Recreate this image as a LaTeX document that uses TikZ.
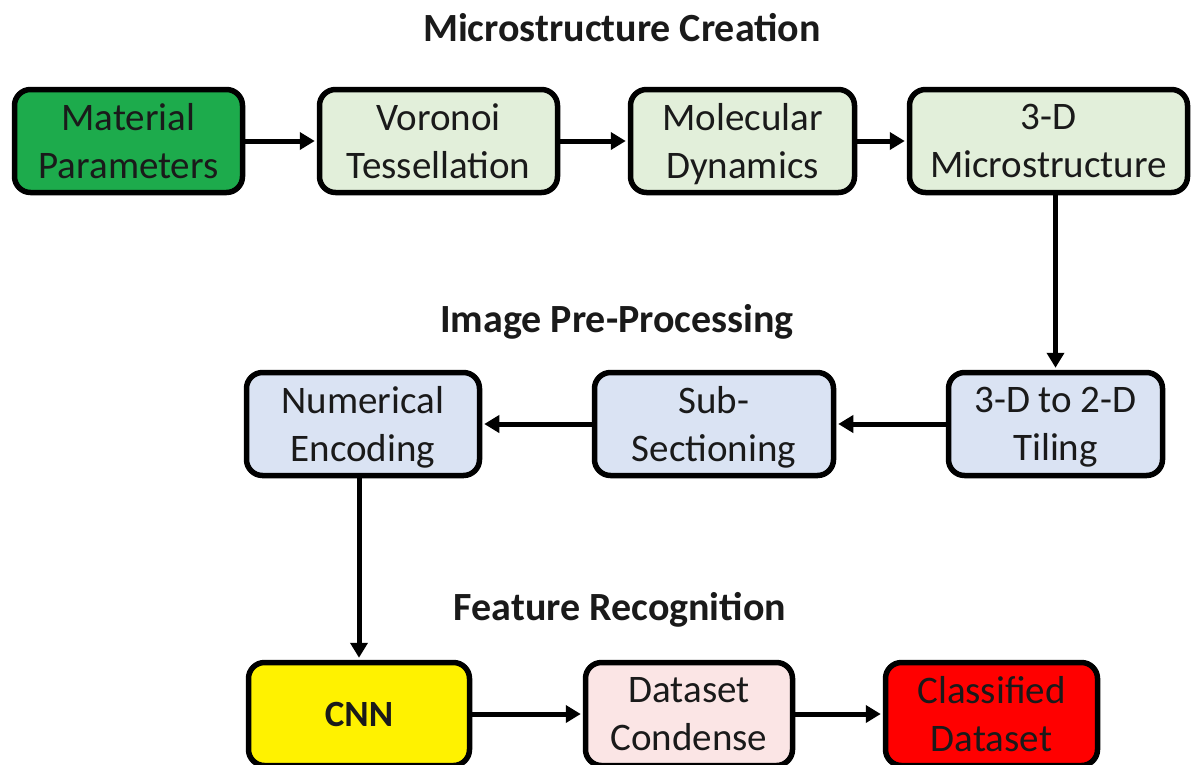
\documentclass[tikz,border=0pt]{standalone}
\usepackage{fontspec}
\setmainfont{Carlito}
\usetikzlibrary{arrows.meta}
\definecolor{dgreen}{HTML}{1DAB4C}
\definecolor{lgreen}{HTML}{E2EFDA}
\definecolor{lblue}{HTML}{DAE3F3}
\definecolor{lpink}{HTML}{FBE5E5}
\definecolor{txt}{HTML}{1A1A1A}
\begin{document}
\begin{tikzpicture}[x=1pt,y=-1pt,
  box/.style={draw=black, line width=5.5pt, rounded corners=16pt, align=center,
    font=\fontsize{39}{48}\selectfont, text=txt, inner sep=0pt, minimum height=103pt, text depth=0pt},
  arr/.style={line width=5pt, -{Triangle[length=15pt,width=17pt]}, shorten >=2pt},
  ttl/.style={font=\fontsize{40}{46}\selectfont\bfseries, text=txt}]
\useasboundingbox (0,0) rectangle (1198,764);
\clip (0,0) rectangle (1198,764);
\fill[white] (0,0) rectangle (1198,764);

\node[ttl] (t1) at (622,28) {Microstructure Creation};
\node[ttl] (t2) at (617,322) {Image Pre-Processing};
\node[ttl] (t3) at (620,610) {Feature Recognition};

\node[box, fill=dgreen, minimum width=228pt] (mat) at (128.5,141) {Material\\Parameters};
\node[box, fill=lgreen, minimum width=238pt] (vor) at (438.5,141) {Voronoi\\Tessellation};
\node[box, fill=lgreen, minimum width=224pt] (mol) at (742.5,141) {Molecular\\Dynamics};
\node[box, fill=lgreen, minimum width=278pt] (mic) at (1048.5,141) {3-D\\Microstructure};

\node[box, fill=lblue, minimum width=233pt] (num) at (363,424) {Numerical\\Encoding};
\node[box, fill=lblue, minimum width=239pt] (sub) at (714,424) {Sub-\\Sectioning};
\node[box, fill=lblue, minimum width=214pt] (til) at (1055.5,424) {3-D to 2-D\\Tiling};

\node[box, fill=yellow, minimum width=221pt, font=\fontsize{37}{48}\selectfont\bfseries] (cnn) at (359,714) {CNN};
\node[box, fill=lpink, minimum width=207pt] (dc) at (689,714) {Dataset\\Condense};
\node[box, fill=red, minimum width=212pt] (cls) at (991.5,714) {Classified\\Dataset};

\draw[arr] (mat) -- (vor);
\draw[arr] (vor) -- (mol);
\draw[arr] (mol) -- (mic);
\draw[arr] (mic.south -| til.north) -- (til.north);
\draw[arr] (til) -- (sub);
\draw[arr] (sub) -- (num);
\draw[arr] (num.south -| cnn.north) -- (cnn.north);
\draw[arr] (cnn) -- (dc);
\draw[arr] (dc) -- (cls);
\end{tikzpicture}
\end{document}
